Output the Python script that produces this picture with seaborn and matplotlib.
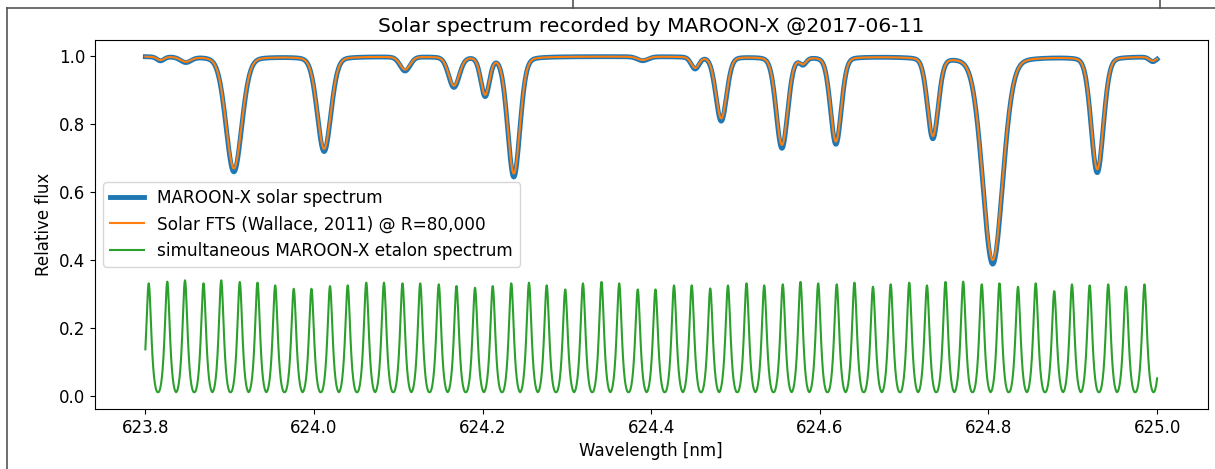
import numpy as np
import pandas as pd
import matplotlib
matplotlib.use('Agg')
import matplotlib.pyplot as plt
from matplotlib.lines import Line2D
import seaborn as sns

# Absorption lines: centre [nm], flux at line core, FWHM [nm]
line_center = [623.818, 623.848, 623.905, 624.012, 624.108, 624.166, 624.203, 624.237,
               624.390, 624.452, 624.483, 624.555, 624.580, 624.619, 624.734, 624.805,
               624.929, 624.995]
fts_min = [0.990, 0.986, 0.670, 0.728, 0.962, 0.915, 0.890, 0.655,
           0.990, 0.968, 0.818, 0.740, 0.982, 0.750, 0.768, 0.400,
           0.668, 0.988]
maroon_min = [0.988, 0.984, 0.660, 0.720, 0.958, 0.910, 0.885, 0.645,
              0.988, 0.965, 0.810, 0.730, 0.980, 0.742, 0.760, 0.388,
              0.658, 0.986]
line_fwhm = [0.010, 0.015, 0.022, 0.019, 0.014, 0.015, 0.012, 0.017,
             0.015, 0.011, 0.015, 0.016, 0.009, 0.015, 0.015, 0.028,
             0.017, 0.010]

# Etalon peaks: wavelength [nm] and peak height
etalon_peak = [623.804, 623.826, 623.847, 623.869, 623.890, 623.912, 623.933, 623.954,
               623.976, 623.997, 624.019, 624.040, 624.062, 624.083, 624.105, 624.126,
               624.148, 624.169, 624.191, 624.212, 624.234, 624.255, 624.276, 624.298,
               624.319, 624.341, 624.362, 624.384, 624.405, 624.427, 624.448, 624.470,
               624.491, 624.513, 624.534, 624.556, 624.577, 624.598, 624.620, 624.641,
               624.663, 624.684, 624.706, 624.727, 624.749, 624.770, 624.792, 624.813,
               624.835, 624.856, 624.878, 624.899, 624.920, 624.942, 624.963, 624.985]
etalon_height = [0.331, 0.336, 0.340, 0.331, 0.340, 0.335, 0.333, 0.325, 0.315, 0.315,
                 0.323, 0.325, 0.333, 0.333, 0.331, 0.331, 0.328, 0.323, 0.318, 0.323,
                 0.331, 0.333, 0.325, 0.313, 0.331, 0.335, 0.331, 0.313, 0.313, 0.325,
                 0.325, 0.316, 0.325, 0.331, 0.325, 0.328, 0.335, 0.331, 0.328, 0.333,
                 0.321, 0.328, 0.333, 0.325, 0.335, 0.336, 0.328, 0.331, 0.321, 0.331,
                 0.308, 0.328, 0.325, 0.328, 0.321, 0.328]
etalon_floor = 0.01

wl = np.linspace(623.8, 625.0, 2401)


def spectrum(mins):
    # line list -> flux, pseudo-Voigt profiles
    f = np.ones_like(wl)
    for c, m, w in zip(line_center, mins, line_fwhm):
        u = (wl - c) / w
        prof = 0.85 * np.exp(-4 * np.log(2) * u**2) + 0.15 / (1 + 4 * u**2)
        f *= 1 - (1 - m) * prof
    return f


# Etalon: Airy-shaped fringes through the read peaks
peaks = np.array(etalon_peak)
heights = np.array(etalon_height)
fsr = np.mean(np.diff(peaks))
idx = np.abs(wl[:, None] - peaks[None, :]).argmin(axis=1)
F = 2.5
amp = (heights[idx] - etalon_floor) / (1 - 1 / (1 + F))
off = amp - heights[idx]
etalon = amp / (1 + F * np.sin(np.pi * (wl - peaks[idx]) / fsr)**2) - off

df = pd.DataFrame({'wl': wl, 'maroon': spectrum(maroon_min),
                   'fts': spectrum(fts_min), 'etalon': etalon})

fig, ax = plt.subplots(figsize=(12.15, 4.69), dpi=100)
fig.subplots_adjust(left=0.078, right=0.994, top=0.915, bottom=0.128)

sns.lineplot(data=df, x='wl', y='maroon', ax=ax, color='#1f77b4', lw=3.5,
             estimator=None, label='MAROON-X solar spectrum')
sns.lineplot(data=df, x='wl', y='fts', ax=ax, color='#ff7f0e', lw=1.5,
             estimator=None, label='Solar FTS (Wallace, 2011) @ R=80,000')
sns.lineplot(data=df, x='wl', y='etalon', ax=ax, color='#2ca02c', lw=1.5,
             estimator=None, label='simultaneous MAROON-X etalon spectrum')

ax.set_xticks([623.8, 624.0, 624.2, 624.4, 624.6, 624.8, 625.0])
ax.set_yticks([0.0, 0.2, 0.4, 0.6, 0.8, 1.0])
ax.tick_params(labelsize=12)
ax.set_title('Solar spectrum recorded by MAROON-X @2017-06-11', fontsize=14.6)
ax.set_xlabel('Wavelength [nm]', fontsize=12)
ax.set_ylabel('Relative flux', fontsize=12)
ax.legend(loc='center left', fontsize=12.2)

# screenshot frame lines
def fline(x0, y0, x1, y1):
    fig.add_artist(Line2D([x0 / 1215, x1 / 1215], [1 - y0 / 469, 1 - y1 / 469],
                          color='#555555', lw=1.2))

fline(7, 8, 1215, 8)
fline(7, 8, 7, 469)
fline(573, 0, 573, 8)
fline(1160, 0, 1160, 8)

fig.savefig('out.png', dpi=100)
